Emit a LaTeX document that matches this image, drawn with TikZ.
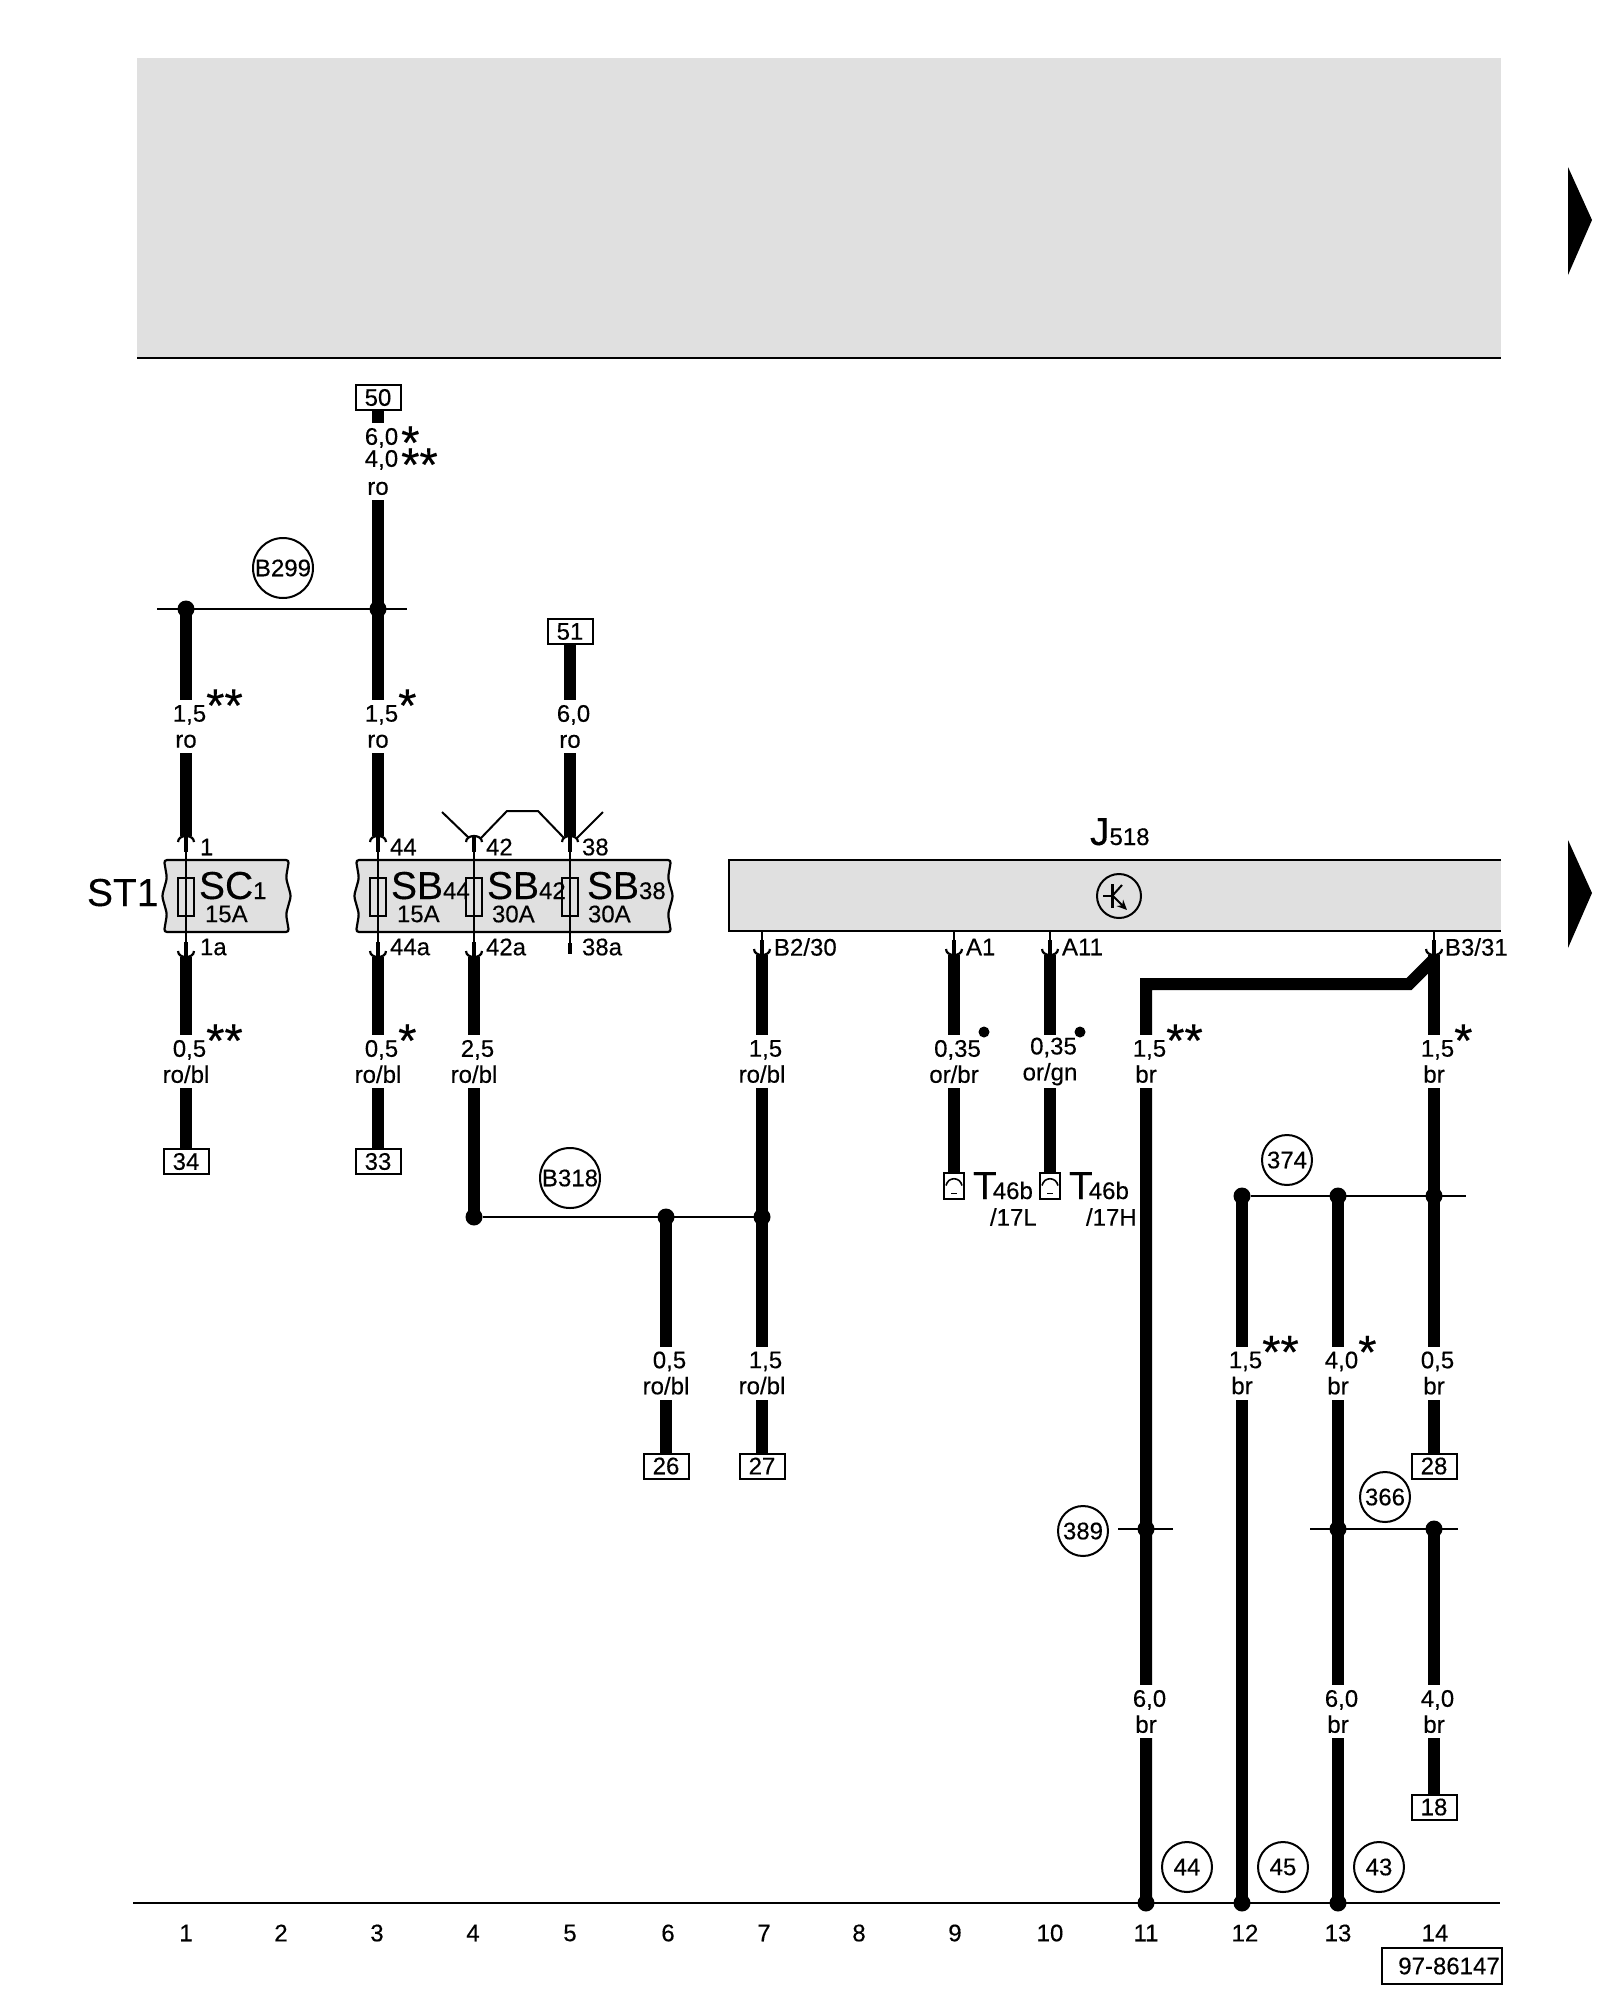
\documentclass[tikz,border=0pt]{standalone}
\usepackage{fontspec}
\setmainfont[FakeBold=0.3]{Liberation Sans}
\usetikzlibrary{arrows.meta}

\definecolor{bandgray}{HTML}{E0E0E0}

\newcommand{\fsz}[1]{\fontsize{#1}{#1}\selectfont}
\newcommand{\wstars}[2][0pt]{\rlap{\smash{\raisebox{#1}{\fsz{47}#2}}}}
\newcommand{\wl}[2]{\hspace*{7pt}#1\\#2}
\newcommand{\bigsub}[2]{{\fsz{39}#1}{\fsz{24}#2}}
\newcommand{\fuseband}[2]{%
  \draw[band,rounded corners=3pt] (#1,860) -- (#1+3,878) -- (#1-2,896) -- (#1+3,914) -- (#1,932)
    -- (#2,932) -- (#2-3,914) -- (#2+2,896) -- (#2-3,878) -- (#2,860) -- cycle;}

\tikzset{
  wire/.style={draw,line width=12pt},
  thinwire/.style={draw,line width=2.2pt},
  band/.style={draw,line width=2.2pt,fill=bandgray},
  junct/.style={circle,fill=black,minimum size=17pt},
  smalldot/.style={circle,fill=black,minimum size=11pt},
  termbox/.style={rectangle,draw,line width=2pt,fill=white,minimum width=45pt,minimum height=25pt},
  ringmark/.style={circle,draw,line width=2pt,minimum size=50pt},
  bigring/.style={circle,draw,line width=2pt,minimum size=60pt},
  wlabel/.style={fill=white,align=center,minimum height=53pt,minimum width=14pt},
  pinlabel/.style={anchor=west},
  fusebox/.style={rectangle,draw,line width=2pt,minimum width=16pt,minimum height=38pt},
  connbox/.style={rectangle,draw,line width=2pt,fill=white,minimum width=20pt,minimum height=26pt},
  pinup/.pic={
    \draw[thinwire] (-8,6) .. controls (-8,-2) and (8,-2) .. (8,6);
    \fill (-2,0) rectangle (2,16);
  },
  pindown/.pic={
    \draw[thinwire] (-8,-6) .. controls (-8,2) and (8,2) .. (8,-6);
    \fill (-2,-15) rectangle (2,0);
  },
  conninner/.pic={
    \draw[line width=1.6pt] (-8,0) .. controls (-6,-9) and (6,-9) .. (8,0);
    \draw[line width=1pt] (-3,8) -- (3,8);
  },
}

\begin{document}
\begin{tikzpicture}[x=1pt,y=-1pt,
    every node/.style={font=\fontsize{24}{26}\selectfont,inner sep=0pt,outer sep=0pt}]

  \fill[white] (0,0) rectangle (1600,2000);
  \path[use as bounding box] (0,0) rectangle (1600,2000);

  % top panel and the two arrows
  \fill[bandgray] (137,58) rectangle (1501,358);
  \draw[line width=2.2pt] (137,358) -- (1501,358);
  \fill (1568,167) -- (1592,220) -- (1568,275) -- cycle;
  \fill (1568,840) -- (1592,893) -- (1568,948) -- cycle;

  % bands
  \fuseband{164}{289}
  \fuseband{356}{671}
  \fill[bandgray] (729,860) rectangle (1501,931);
  \draw[line width=2.2pt] (1501,860) -- (729,860) -- (729,931) -- (1501,931);

  % fuses
  \node[fusebox] (f1)  at (186,897) {};
  \node[fusebox] (f44) at (378,897) {};
  \node[fusebox] (f42) at (474,897) {};
  \node[fusebox] (f38) at (570,897) {};

  \node[anchor=base west] (st1)  at (87,906)  {\fsz{39}ST1};
  \node[anchor=base west] (sc1)  at (199,899) {\bigsub{SC}{1}};
  \node[anchor=base west] (sb44) at (391,899) {\bigsub{SB}{44}};
  \node[anchor=base west] (sb42) at (487,899) {\bigsub{SB}{42}};
  \node[anchor=base west] (sb38) at (587,899) {\bigsub{SB}{38}};
  \node[anchor=west] (a1)  at (205,914) {15A};
  \node[anchor=west] (a44) at (397,914) {15A};
  \node[anchor=west] (a42) at (492,914) {30A};
  \node[anchor=west] (a38) at (588,914) {30A};

  \node[anchor=base west] (j518) at (1090,845) {\bigsub{J}{518}};

  % transistor sign
  \node[circle,draw,line width=2pt,minimum size=44pt] (tr) at (1119,896) {};
  \draw[line width=3pt] (1112,884) -- (1112,908);
  \draw[line width=2pt] (1103,896) -- (1112,896);
  \draw[line width=2pt] (1113,895) -- (1122,885);
  \draw[line width=2pt,-{Stealth[length=10pt,width=9pt]}] (1113,896) -- (1127,910);

  % pins
  \coordinate (p1t)  at (186,836);
  \coordinate (p44t) at (378,836);
  \coordinate (p42t) at (474,836);
  \coordinate (p38t) at (570,836);
  \coordinate (p1b)  at (186,957);
  \coordinate (p44b) at (378,957);
  \coordinate (p42b) at (474,957);
  \coordinate (p38b) at (570,943);
  \coordinate (p7t)  at (762,931);
  \coordinate (p9t)  at (954,931);
  \coordinate (p10t) at (1050,931);
  \coordinate (p14t) at (1434,931);
  \coordinate (p7)   at (762,955);
  \coordinate (p9)   at (954,955);
  \coordinate (p10)  at (1050,955);
  \coordinate (p14)  at (1434,955);

  \foreach \p in {p1t,p44t,p42t,p38t} {\pic at (\p) {pinup};}
  \foreach \p in {p1b,p44b,p42b,p7,p9,p10,p14} {\pic at (\p) {pindown};}
  \fill (568,943) rectangle (572,954);

  \node[pinlabel] (l1)   at (200,847)  {1};
  \node[pinlabel] (l44)  at (390,847)  {44};
  \node[pinlabel] (l42)  at (486,847)  {42};
  \node[pinlabel] (l38)  at (582,847)  {38};
  \node[pinlabel] (l1a)  at (200,947)  {1a};
  \node[pinlabel] (l44a) at (390,947)  {44a};
  \node[pinlabel] (l42a) at (486,947)  {42a};
  \node[pinlabel] (l38a) at (582,947)  {38a};
  \node[pinlabel] (lb2)  at (774,947)  {B2/30};
  \node[pinlabel] (la1)  at (966,947)  {A1};
  \node[pinlabel] (la11) at (1062,947) {A11};
  \node[pinlabel] (lb3)  at (1445,947) {B3/31};

  % terminals
  \node[termbox] (b50) at (378,397.5) {50};
  \node[termbox] (b51) at (570,631.5) {51};
  \node[termbox] (b34) at (186,1161.5) {34};
  \node[termbox] (b33) at (378,1161.5) {33};
  \node[termbox] (b26) at (666,1466) {26};
  \node[termbox] (b27) at (762,1466) {27};
  \node[termbox] (b28) at (1434,1466) {28};
  \node[termbox] (b18) at (1434,1807) {18};

  \node[connbox] (t17l) at (954,1185.5) {};
  \node[connbox] (t17h) at (1050,1185.5) {};
  \pic at (t17l) {conninner};
  \pic at (t17h) {conninner};

  % junctions
  \node[junct] (j1)   at (186,609)  {};
  \node[junct] (j3)   at (378,609)  {};
  \node[junct] (j4)   at (474,1217) {};
  \node[junct] (j6)   at (666,1217) {};
  \node[junct] (j7)   at (762,1217) {};
  \node[junct] (j12)  at (1242,1196) {};
  \node[junct] (j13)  at (1338,1196) {};
  \node[junct] (j14)  at (1434,1196) {};
  \node[junct] (j11b) at (1146,1529) {};
  \node[junct] (j13b) at (1338,1529) {};
  \node[junct] (j14b) at (1434,1529) {};
  \node[junct] (g11)  at (1146,1903) {};
  \node[junct] (g12)  at (1242,1903) {};
  \node[junct] (g13)  at (1338,1903) {};

  \coordinate (e1) at (157,609);
  \coordinate (e2) at (407,609);
  \coordinate (e3) at (1466,1196);
  \coordinate (e4) at (1118,1529);
  \coordinate (e5) at (1173,1529);
  \coordinate (e6) at (1310,1529);
  \coordinate (e7) at (1458,1529);
  \coordinate (gl) at (133,1903);
  \coordinate (gr) at (1500,1903);
  \coordinate (jog1) at (1409,984);
  \coordinate (jog2) at (1146,984);
  \coordinate (v1) at (442,812);
  \coordinate (v2) at (469,838);
  \coordinate (v3) at (481,838);
  \coordinate (v4) at (507,811);
  \coordinate (v5) at (538,811);
  \coordinate (v6) at (564,838);
  \coordinate (v7) at (577,838);
  \coordinate (v8) at (603,812);

  % thin lines
  \begin{scope}[every edge/.style={thinwire}]
    \path (e1) edge (e2);
    \path (j4) edge (j7);
    \path (j12) edge (e3);
    \path (e4) edge (e5);
    \path (e6) edge (e7);
    \path (gl) edge (gr);
    \path (p1t) edge (p1b);
    \path (p44t) edge (p44b);
    \path (p42t) edge (p42b);
    \path (p38t) edge (p38b);
    \path (p7t) edge (p7);
    \path (p9t) edge (p9);
    \path (p10t) edge (p10);
    \path (p14t) edge (p14);
  \end{scope}
  \draw[line width=2pt] (v1) -- (v2);
  \draw[line width=2pt] (v3) -- (v4) -- (v5) -- (v6);
  \draw[line width=2pt] (v7) -- (v8);

  % heavy wires, labels sit on them
  \begin{scope}[every edge/.style={wire}]
    \path (b50) edge (j3.center);
    \path (j3.center) edge (p44t);
    \path (j1.center) edge (p1t);
    \path (b51) edge (p38t);
    \path (p1b) edge (b34);
    \path (p44b) edge (b33);
    \path (p42b) edge (j4.center);
    \path (j6.center) edge (b26);
    \path (p7) edge (b27);
    \path (p9) edge (t17l);
    \path (p10) edge (t17h);
    \path (p14) edge (b28);
    \path (j12.center) edge (g12.center);
    \path (j13.center) edge (g13.center);
    \path (j14b.center) edge (b18);
  \end{scope}
  \draw[wire,miter limit=10] (p14) ++(0,4) -- (jog1) -- (jog2) -- (g11.center);

  \node[wlabel,minimum height=77pt] (w3a) at (378,461.5) {\hspace*{7pt}6,0\wstars[-14pt]{\kern3pt *}\\[-4pt]\hspace*{7pt}4,0\wstars[-14pt]{\kern3pt **}\\[2pt]ro};
  \node[wlabel] (w1a) at (186,726.5) {\wl{1,5\wstars{**}}{ro}};
  \node[wlabel] (w3b) at (378,726.5) {\wl{1,5\wstars{*}}{ro}};
  \node[wlabel] (w5a) at (570,726.5) {\wl{6,0}{ro}};
  \node[wlabel] (w1b) at (186,1061.5) {\wl{0,5\wstars{**}}{ro/bl}};
  \node[wlabel] (w3c) at (378,1061.5) {\wl{0,5\wstars{*}}{ro/bl}};
  \node[wlabel] (w4a) at (474,1061.5) {\wl{2,5}{ro/bl}};
  \node[wlabel] (w7a) at (762,1061.5) {\wl{1,5}{ro/bl}};
  \node[wlabel] (w9a) at (954,1061.5) {\wl{0,35}{or/br}};
  \node[wlabel] (w10a) at (1050,1061.5) {\wl{0,35}{or/gn}};
  \node[wlabel] (w11a) at (1146,1061.5) {\wl{1,5\wstars{**}}{br}};
  \node[wlabel] (w14a) at (1434,1061.5) {\wl{1,5\wstars{*}}{br}};
  \node[wlabel] (w6a) at (666,1373) {\wl{0,5}{ro/bl}};
  \node[wlabel] (w7b) at (762,1373) {\wl{1,5}{ro/bl}};
  \node[wlabel] (w12a) at (1242,1373) {\wl{1,5\wstars{**}}{br}};
  \node[wlabel] (w13a) at (1338,1373) {\wl{4,0\wstars{*}}{br}};
  \node[wlabel] (w14b) at (1434,1373) {\wl{0,5}{br}};
  \node[wlabel] (w11b) at (1146,1711.5) {\wl{6,0}{br}};
  \node[wlabel] (w13b) at (1338,1711.5) {\wl{6,0}{br}};
  \node[wlabel] (w14c) at (1434,1711.5) {\wl{4,0}{br}};

  \node[smalldot] (d9)  at (984,1032)  {};
  \node[smalldot] (d10) at (1080,1032) {};

  \node[anchor=base west] (t1) at (973,1199)  {\bigsub{T\kern-4pt}{46b}};
  \node[anchor=base west] (t2) at (1069,1199) {\bigsub{T\kern-4pt}{46b}};
  \node[anchor=west] (t1a) at (990,1217)  {/17L};
  \node[anchor=west] (t2a) at (1086,1217) {/17H};

  % circled marks
  \node[bigring] (b299) at (283,568)  {B299};
  \node[bigring] (b318) at (570,1178) {B318};
  \node[ringmark] (m374) at (1287,1160) {374};
  \node[ringmark] (m389) at (1083,1531) {389};
  \node[ringmark] (m366) at (1385,1497) {366};
  \node[ringmark] (m44)  at (1187,1867) {44};
  \node[ringmark] (m45)  at (1283,1867) {45};
  \node[ringmark] (m43)  at (1379,1867) {43};

  % column numbers
  \foreach \n/\x in {1/186,2/281,3/377,4/473,5/570,6/668,7/764,8/859,9/955,10/1050,11/1146,12/1245,13/1338,14/1435}
    \node (n\n) at (\x,1933) {\n};

  \node[rectangle,draw,line width=2pt,minimum width=120pt,minimum height=36pt] (docno) at (1442,1966) {\hspace*{14pt}97-86147};

\end{tikzpicture}
\end{document}
